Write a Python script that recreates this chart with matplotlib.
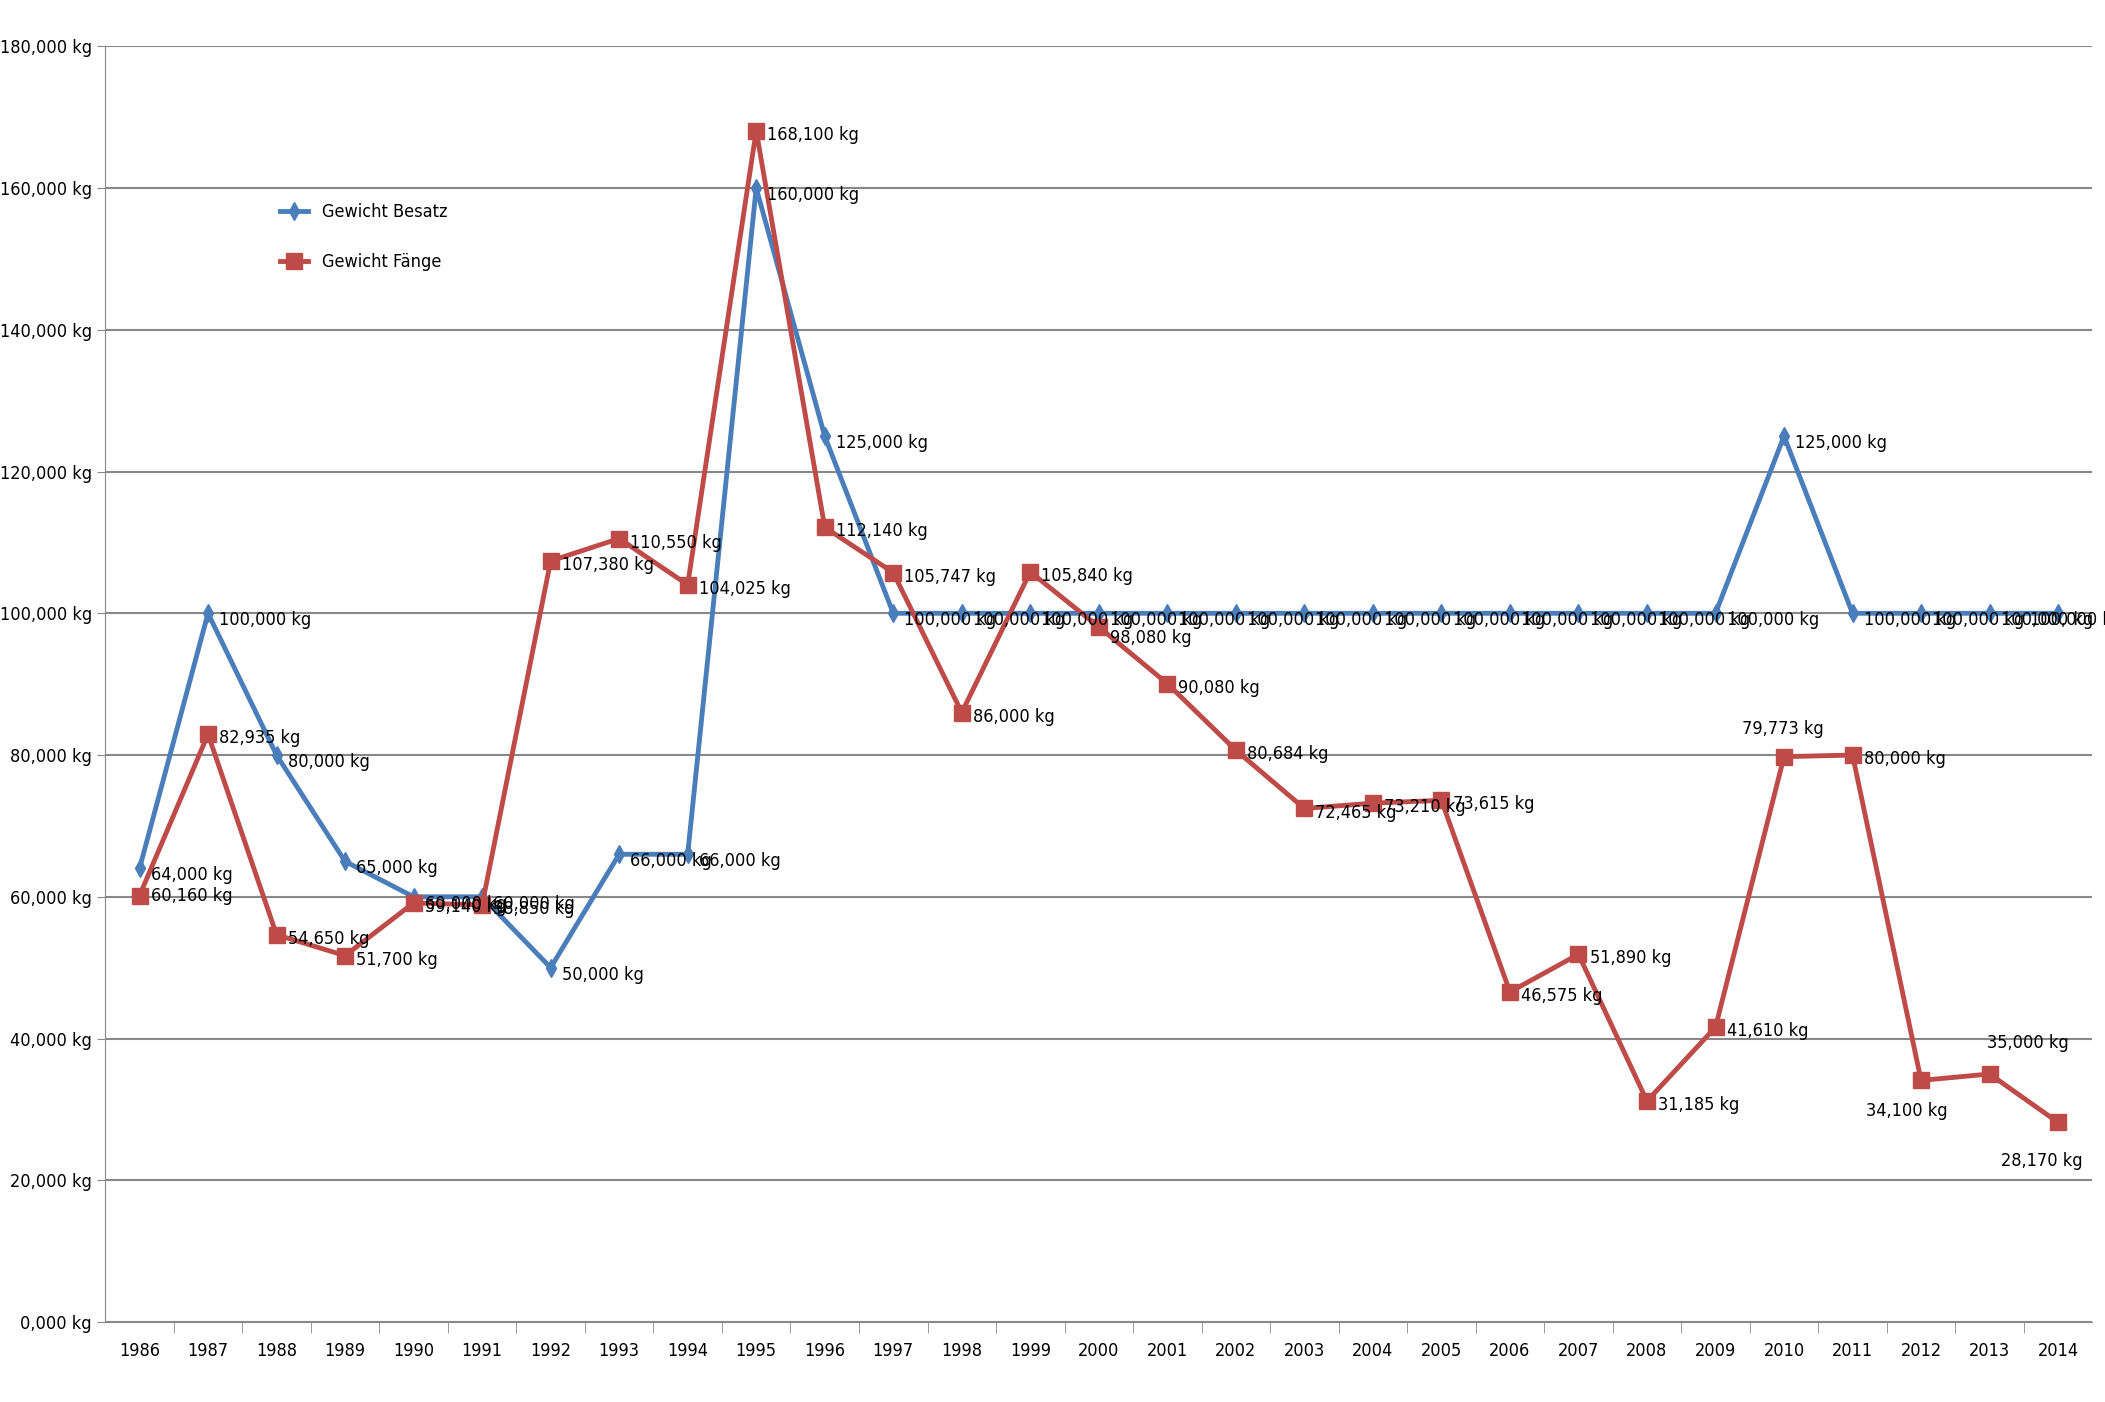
import matplotlib
matplotlib.use("Agg")
import matplotlib.pyplot as plt
from matplotlib.ticker import FuncFormatter

years = list(range(1986, 2015))
besatz = [64000, 100000, 80000, 65000, 60000, 60000, 50000, 66000, 66000, 160000, 125000,
          100000, 100000, 100000, 100000, 100000, 100000, 100000, 100000, 100000, 100000,
          100000, 100000, 100000, 125000, 100000, 100000, 100000, 100000]
faenge = [60160, 82935, 54650, 51700, 59140, 58850, 107380, 110550, 104025, 168100, 112140,
          105747, 86000, 105840, 98080, 90080, 80684, 72465, 73210, 73615, 46575, 51890,
          31185, 41610, 79773, 80000, 34100, 35000, 28170]

plt.rcParams['font.family'] = ['DejaVu Sans']
plt.rcParams['font.stretch'] = 'condensed'
FS = 13
fig = plt.figure(figsize=(21.05, 14.02), dpi=100)
ax = fig.add_axes([0.05, 0.057, 0.944, 0.91])
x = list(range(len(years)))
blue = '#4a7ebb'; red = '#be4b48'
ax.plot(x, besatz, color=blue, lw=3.5, marker='d', ms=9, label='Gewicht Besatz', zorder=3)
ax.plot(x, faenge, color=red, lw=3.5, marker='s', ms=11, label='Gewicht Fänge', zorder=4)

def fmt(v):
    return f"{v:,.0f} kg"
for i, v in enumerate(besatz):
    dx = -20 if i == len(besatz) - 1 else 8
    ax.annotate(fmt(v), (i, v), xytext=(dx, -5), textcoords='offset points', fontsize=FS, va='center', zorder=5)
red_off = {24: (-30, 20), 26: (-40, -22), 27: (-2, 22), 28: (-20, -28), 0: (8, 0), 14: (8, -8), 17: (8, -3)}
for i, v in enumerate(faenge):
    dx, dy = red_off.get(i, (8, -3))
    ha = 'right' if i == 28 else 'left'
    if i == 28:
        dx = 18
    ax.annotate(fmt(v), (i, v), xytext=(dx, dy), textcoords='offset points', fontsize=FS, va='center', ha=ha, zorder=5)

ax.set_ylim(0, 180000)
ax.set_xlim(-0.5, len(years) - 0.5)
ax.set_yticks(range(0, 180001, 20000))
ax.yaxis.set_major_formatter(FuncFormatter(lambda v, p: "0,000 kg" if v == 0 else f"{v:,.0f} kg"))
ax.set_xticks(x)
ax.set_xticklabels([str(y) for y in years])
ax.set_xticks([i + 0.5 for i in x[:-1]], minor=True)
ax.tick_params(axis='x', which='major', length=0, labelsize=FS, pad=14)
ax.tick_params(axis='x', which='minor', length=8, color='#888888')
ax.tick_params(axis='y', labelsize=FS, length=6, color='#888888')
ax.grid(axis='y', color='#888888', lw=1.5)
for s in ['top', 'right']:
    ax.spines[s].set_visible(False)
ax.spines['left'].set_color('#888888')
ax.spines['bottom'].set_color('#888888')
ax.legend(loc='upper left', bbox_to_anchor=(0.08, 0.89), frameon=False, fontsize=FS, labelspacing=1.8, handlelength=1.5)
fig.savefig('out.png')
